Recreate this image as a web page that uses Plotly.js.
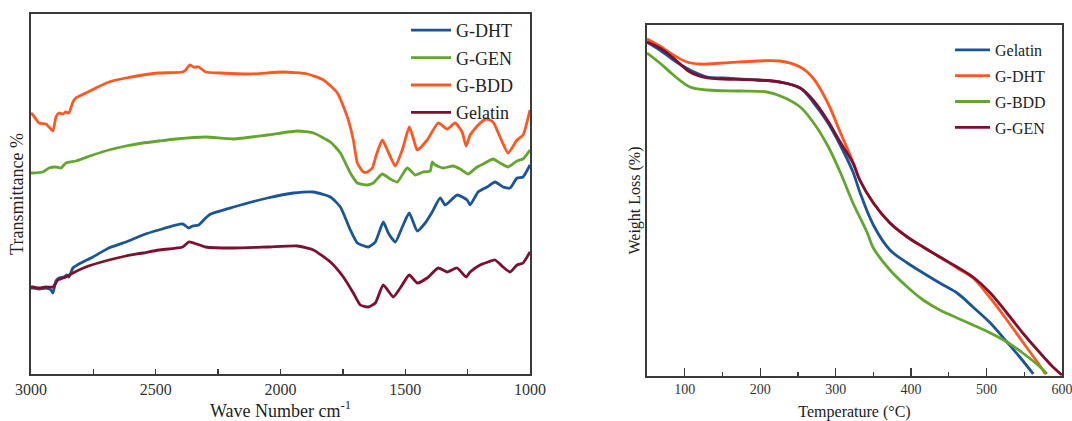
<!DOCTYPE html>
<html>
<head>
<meta charset="utf-8">
<script src="https://cdn.plot.ly/plotly-3.0.1.min.js"></script>
<style>html,body{margin:0;padding:0;background:#fff;}#chart{width:1072px;height:421px;}</style>
</head>
<body>
<div id="chart"></div>
<script>
// ---------- FTIR (left) : wave number (cm-1) vs transmittance (arbitrary units) ----------
const bddWn = [3000,2992,2968,2940,2928,2912,2900,2888,2872,2860,2848,2832,2820,2780,2740,2688,2620,2552,2488,2392,2380,2364,2348,2328,2300,2240,2120,1988,1892,1828,1772,1732,1708,1692,1668,1652,1632,1616,1592,1568,1540,1512,1484,1468,1452,1412,1368,1332,1300,1272,1256,1240,1208,1176,1148,1120,1088,1052,1028,1000];
const bddT  = [261,259,251,250,247,243,257,261,260,262,261,272,276,281,286,292,296,299,301,302,304,309,307,307,302,301,300,302,300,294,281,257,234,211,202,202,206,219,234,222,208,224,247,236,224,234,251,245,251,242,228,239,249,255,252,237,221,234,239,264];

const genWn = [3000,2992,2952,2928,2900,2880,2860,2820,2752,2688,2620,2552,2488,2420,2300,2188,2052,1932,1868,1800,1760,1720,1692,1652,1628,1592,1560,1532,1492,1460,1428,1400,1392,1380,1348,1308,1280,1248,1212,1180,1148,1120,1088,1052,1028,1000];
const genT  = [201,201,202,206,207,206,211,213,219,224,228,231,233,235,237,235,239,243,241,232,221,201,191,189,191,200,195,192,206,199,202,203,212,209,206,208,205,200,207,211,215,211,207,213,215,224];

const dhtWn = [3000,2992,2968,2940,2920,2912,2900,2888,2868,2856,2848,2832,2808,2752,2688,2620,2552,2488,2392,2368,2352,2328,2300,2280,2188,2052,1948,1868,1800,1760,1720,1692,1648,1620,1588,1568,1540,1512,1484,1452,1420,1392,1360,1340,1292,1252,1240,1208,1172,1140,1108,1080,1052,1028,1000];
const dhtT  = [86,86,85,86,84,81,93,96,97,99,97,106,110,117,126,132,139,144,150,146,148,149,156,160,167,176,181,182,177,167,144,131,127,132,152,141,132,147,161,143,151,162,176,169,179,174,169,182,187,192,187,186,196,197,209];

const gelWn = [3000,2992,2968,2940,2912,2892,2860,2832,2780,2688,2620,2552,2488,2392,2368,2348,2300,2188,2052,1932,1868,1800,1748,1708,1680,1648,1620,1588,1548,1520,1484,1452,1412,1368,1332,1292,1256,1240,1200,1168,1140,1108,1080,1052,1028,1000];
const gelT  = [87,87,86,87,87,94,97,101,107,114,118,121,124,127,132,131,127,126,127,128,124,112,97,81,69,67,71,89,77,86,99,91,96,106,102,106,97,102,109,112,114,107,102,109,111,122];

// ---------- TGA (right) : temperature (°C) vs weight (arbitrary units) ----------
const tgaGelatinT = [50,67,85,107,130,151,196,226,253,270,289,306,323,332,350,372,395,416,438,461,482,505,527,544,562];
const tgaGelatinW = [334,326,316,306,299,298,296,294,288,274,254,231,204,184,151,126,113,103,93,83,69,53,34,19,2];

const tgaDhtT = [50,67,85,103,120,151,196,226,253,270,289,306,323,332,350,372,395,416,438,461,482,505,527,548,571,578];
const tgaDhtW = [337,330,321,314,312,313,315,315,309,298,274,244,214,196,173,153,139,129,119,108,98,78,56,34,10,2];

const tgaBddT = [50,67,85,107,130,173,209,230,253,270,289,306,323,342,350,372,395,416,438,461,482,505,527,548,571,580];
const tgaBddW = [323,313,301,289,286,285,284,279,269,254,231,204,173,143,128,106,89,76,66,58,51,43,34,23,9,2];

const tgaGenT = [50,67,85,107,130,151,196,226,253,270,289,306,323,332,350,372,395,416,438,461,482,505,527,548,571,588,600];
const tgaGenW = [334,328,318,304,298,297,296,294,288,276,256,234,213,196,173,153,139,129,119,109,99,83,63,43,23,9,1];

const leftNames  = ['G-DHT','G-GEN','G-BDD','Gelatin'];
const rightNames = ['Gelatin','G-DHT','G-BDD','G-GEN'];

const C = {blue:'#1c5596', green:'#63a62e', orange:'#ff5722', red:'#7f0f2f'};
const FONT = 'Liberation Serif, Times New Roman, serif';

function ir(x, y, name, color, g){
  return {x:x, y:y, name:name, type:'scatter', mode:'lines', xaxis:'x', yaxis:'y',
    line:{color:color, width:2.8, shape:'spline', smoothing:0.5}, legend:'legend', legendgroup:'L'+g};
}
function tg(x, y, name, color, g){
  return {x:x, y:y, name:name, type:'scatter', mode:'lines', xaxis:'x2', yaxis:'y2',
    line:{color:color, width:2.8, shape:'spline', smoothing:1}, legend:'legend2', legendgroup:'R'+g};
}

const data = [
  ir(dhtWn, dhtT, leftNames[0], C.blue, 0),
  ir(genWn, genT, leftNames[1], C.green, 1),
  ir(bddWn, bddT, leftNames[2], C.orange, 2),
  ir(gelWn, gelT, leftNames[3], C.red, 3),
  tg(tgaGelatinT, tgaGelatinW, rightNames[0], C.blue, 0),
  tg(tgaDhtT, tgaDhtW, rightNames[1], C.orange, 1),
  tg(tgaBddT, tgaBddW, rightNames[2], C.green, 2),
  tg(tgaGenT, tgaGenW, rightNames[3], C.red, 3)
];

const axLine = {showline:true, mirror:true, linecolor:'#3a3a3a', linewidth:1.6, showgrid:false, zeroline:false};

const layout = {
  width:1072, height:421,
  margin:{l:0, r:0, t:0, b:0},
  paper_bgcolor:'#fff', plot_bgcolor:'#fff',
  font:{family:FONT, color:'#222'},
  showlegend:true,
  xaxis: Object.assign({}, axLine, {
    domain:[31/1072, 530/1072], anchor:'y',
    range:[3000,1000], tickmode:'linear', tick0:1000, dtick:500,
    ticks:'inside', ticklen:5, tickwidth:1.3, tickcolor:'#3a3a3a',
    minor:{dtick:250, ticks:'inside', ticklen:5, tickwidth:1.3, tickcolor:'#3a3a3a'},
    tickfont:{family:FONT, size:16, color:'#333'}, ticklabeloverflow:'allow',
    title:{text:'Wave Number cm<sup>-1</sup>', font:{family:FONT, size:18, color:'#222'}, standoff:8}
  }),
  yaxis: Object.assign({}, axLine, {
    domain:[1-374/421, 1-14/421], anchor:'x',
    range:[0,360], showticklabels:false, ticks:'',
    title:{text:'Transmittance %', font:{family:FONT, size:18, color:'#222'}, standoff:1}
  }),
  xaxis2: Object.assign({}, axLine, {
    domain:[647/1072, 1062/1072], anchor:'y2',
    range:[50,600], tickmode:'linear', tick0:0, dtick:100,
    ticks:'inside', ticklen:8, tickwidth:1.3, tickcolor:'#3a3a3a',
    minor:{dtick:50, ticks:'inside', ticklen:4, tickwidth:1.3, tickcolor:'#3a3a3a'},
    tickfont:{family:FONT, size:14, color:'#333'}, ticklabeloverflow:'allow',
    title:{text:'Temperature (°C)', font:{family:FONT, size:16, color:'#222'}, standoff:9}
  }),
  yaxis2: Object.assign({}, axLine, {
    domain:[1-376/421, 1-25/421], anchor:'x2',
    range:[0,351], showticklabels:false, ticks:'',
    title:{text:'Weight Loss (%)', font:{family:FONT, size:16, color:'#222'}, standoff:1}
  }),
  legend:{x:406/1072, y:1-12/421, xanchor:'left', yanchor:'top', bgcolor:'rgba(0,0,0,0)',
    font:{family:FONT, size:18, color:'#222'}, tracegroupgap:1, itemwidth:40},
  legend2:{x:950/1072, y:1-33/421, xanchor:'left', yanchor:'top', bgcolor:'rgba(0,0,0,0)',
    font:{family:FONT, size:16, color:'#222'}, tracegroupgap:2, itemwidth:35}
};

Plotly.newPlot('chart', data, layout, {staticPlot:true, displayModeBar:false});
</script>
</body>
</html>
